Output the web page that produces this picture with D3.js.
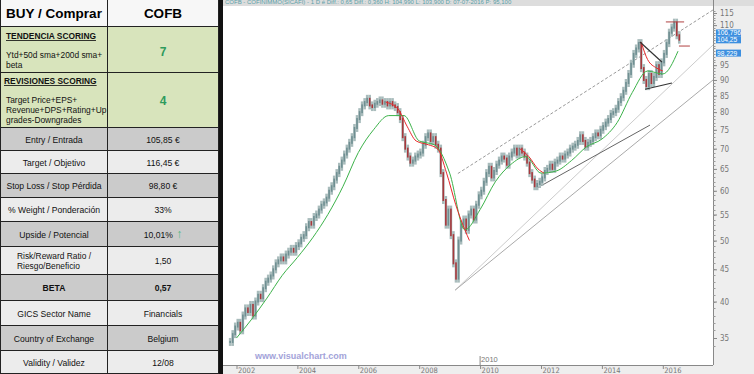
<!DOCTYPE html>
<html>
<head>
<meta charset="utf-8">
<script src="https://cdn.jsdelivr.net/npm/d3@7"></script>
<style>
  body { margin: 0; background: #fff; }
  svg { display: block; font-family: "Liberation Sans", Arial, sans-serif; }
</style>
</head>
<body>
<svg id="chart" width="754" height="374"></svg>
<script>
// ---- table data ----
var tableLabels = ['Entry / Entrada', 'Target / Objetivo', 'Stop Loss / Stop Pérdida', '% Weight / Ponderación',
    'Upside / Potencial', 'Risk/Reward  Ratio /|Riesgo/Beneficio', 'BETA', 'GICS Sector Name',
    'Country of Exchange', 'Validity / Validez'];
var tableValues = ['105,85 €', '116,45 €', '98,80 €', '33%', '10,01%', '1,50', '0,57', 'Financials', 'Belgium', '12/08'];
var rowEdges = [0, 27, 73, 128, 151, 174, 198, 222, 247, 275, 301, 326, 351, 374];
var tendenciaScore = 7;
var revisionesScore = 4;

// ---- price data (monthly closes, Oct 2001 .. Jul 2016) ----
var firstMonth = 2001 + 9 / 12;
var closes = [
    34.5, 35.5, 36.5,                                              // 2001
    37, 36, 38, 39, 38.5, 39.5, 38, 40, 41, 40.5, 42, 43,          // 2002
    43.5, 44, 45, 46, 46.5, 47, 46.5, 47.5, 48, 48.5, 48, 49,      // 2003
    49.5, 50.5, 51, 52.5, 53.5, 53, 54.5, 55, 56, 57, 57.5, 58.5,  // 2004
    60, 61, 62.5, 64, 65.5, 67, 68.5, 70, 71.5, 73, 75.5, 78,      // 2005
    80, 82, 83, 84, 82, 81.5, 82.5, 83, 83.5, 82.5, 83, 82,        // 2006
    83, 82, 81.5, 80, 78, 73, 70, 68, 66.5, 67, 68, 68.5,          // 2007
    69, 71, 73, 74, 72, 73, 71, 70, 64, 58, 53, 56,                // 2008
    51, 46, 43.5, 50, 53, 54, 52, 55, 56, 54, 57, 59,              // 2009
    60, 62, 64, 65.5, 63, 64.5, 66, 67, 68, 67.5, 66, 68,          // 2010
    69, 70, 68.5, 70, 69, 68, 66.5, 64, 62.5, 61, 61.5, 62,        // 2011
    63, 64.5, 65, 66, 65, 66.5, 67, 68, 67.5, 68.5, 69, 70,        // 2012
    70.5, 71, 72, 73.5, 72, 70.5, 71.5, 72, 73, 74, 73.5, 75,      // 2013
    76, 77, 78, 79.5, 80, 81, 83, 84.5, 86.5, 89, 92, 95.5,        // 2014
    99, 101, 103, 94, 90, 88, 92, 89, 91, 95, 92, 96,              // 2015
    99, 103, 107, 109, 111, 106, 104.3                             // 2016
];

// moving average lines as [year, price]
var greenLine = [[2002.0, 35], [2002.5, 37.5], [2003.0, 40.5], [2003.5, 44], [2004.0, 47], [2004.5, 50.5],
    [2005.0, 55], [2005.5, 61], [2006.0, 69], [2006.5, 75], [2007.0, 79], [2007.5, 79], [2008.0, 72],
    [2008.5, 71], [2009.0, 64], [2009.5, 52], [2010.0, 56], [2010.5, 62], [2011.0, 66], [2011.5, 68],
    [2012.0, 64], [2012.5, 64.5], [2013.0, 67], [2013.5, 70.5], [2014.0, 72.5], [2014.5, 77],
    [2015.0, 86], [2015.5, 93], [2016.0, 92], [2016.5, 100]];
var redLines = [
    [[2006.9, 83], [2007.3, 81], [2007.6, 76], [2007.9, 72], [2008.3, 71], [2008.6, 70], [2008.9, 64],
     [2009.2, 57], [2009.5, 52], [2009.65, 50]],
    [[2011.3, 70], [2011.6, 68], [2011.9, 65], [2012.1, 64]],
    [[2015.3, 103], [2015.5, 97], [2015.8, 94], [2016.0, 93]]
];

// drawn trend lines [x1, v1, x2, v2]
var channelLines = [
    { pts: [2009.27, 63.9, 2017.65, 116.3], color: '#999', dash: '3,2' },
    { pts: [2009.18, 41.7, 2017.65, 102.3], color: '#ccc', dash: null },
    { pts: [2009.18, 41.7, 2017.65, 90.0], color: '#aaa', dash: null },
    { pts: [2011.87, 60.6, 2015.58, 76.3], color: '#666', dash: null }
];
var triangleLines = [[2015.25, 103.4, 2015.97, 96.1], [2015.42, 87.0, 2016.30, 89.0]];
var levelLines = [[2016.1, 2016.7, 111.3], [2016.53, 2016.89, 101.9]];
var priceTags = [[106.9, '106,796'], [104.25, '104,25'], [99.3, '98,229']];

var yTicks = [35, 40, 45, 50, 55, 60, 65, 70, 75, 80, 85, 90, 95, 110, 115];
var xTicks = [2002, 2004, 2006, 2008, 2010, 2012, 2014, 2016];

var svg = d3.select('#chart');

// ---------------- table ----------------
var tbl = svg.append('g');
var rowFills = ['#f7f7f7', '#d8e4bc', '#d8e4bc', '#cbcbcb', '#ececec', '#cbcbcb', '#ececec', '#cbcbcb',
    '#ececec', '#cbcbcb', '#ececec', '#cbcbcb', '#ececec'];
rowFills.forEach(function (f, i) {
    tbl.append('rect').attr('x', 0).attr('y', rowEdges[i]).attr('width', 219)
        .attr('height', rowEdges[i + 1] - rowEdges[i]).attr('fill', f);
    tbl.append('line').attr('x1', 0).attr('x2', 219).attr('y1', rowEdges[i + 1] - 0.5)
        .attr('y2', rowEdges[i + 1] - 0.5).attr('stroke', '#222').attr('stroke-width', 1);
});
tbl.append('line').attr('x1', 107.5).attr('x2', 107.5).attr('y1', 0).attr('y2', 374).attr('stroke', '#222');
tbl.append('line').attr('x1', 0.5).attr('x2', 0.5).attr('y1', 0).attr('y2', 374).attr('stroke', '#222');
tbl.append('line').attr('x1', 218.5).attr('x2', 218.5).attr('y1', 0).attr('y2', 374).attr('stroke', '#222');

tbl.append('text').attr('x', 54).attr('y', 18).attr('text-anchor', 'middle')
    .style('font-size', '13.5px').style('font-weight', 'bold').text('BUY / Comprar');
tbl.append('text').attr('x', 163).attr('y', 18).attr('text-anchor', 'middle')
    .style('font-size', '13.5px').style('font-weight', 'bold').text('COFB');

function leftText(x, y, str, bold, underline) {
    tbl.append('text').attr('x', x).attr('y', y).style('font-size', '8.4px')
        .style('font-weight', bold ? 'bold' : 'normal')
        .style('text-decoration', underline ? 'underline' : 'none').attr('fill', '#111').text(str);
}
leftText(6, 39, 'TENDENCIA SCORING', true, true);
leftText(6, 58, 'Ytd+50d sma+200d sma+');
leftText(6, 68, 'beta');
leftText(4, 84, 'REVISIONES SCORING', true, true);
leftText(6, 103, 'Target Price+EPS+');
leftText(6, 113, 'Revenue+DPS+Rating+Up');
leftText(6, 123, 'grades-Downgrades');
tbl.append('text').attr('x', 163).attr('y', 56).attr('text-anchor', 'middle').attr('fill', '#2e9a5c')
    .style('font-size', '12px').style('font-weight', 'bold').text(tendenciaScore);
tbl.append('text').attr('x', 163).attr('y', 105).attr('text-anchor', 'middle').attr('fill', '#2e9a5c')
    .style('font-size', '12px').style('font-weight', 'bold').text(revisionesScore);

tableLabels.forEach(function (lab, i) {
    var top = rowEdges[i + 3], bot = rowEdges[i + 4], mid = (top + bot) / 2;
    var bold = lab === 'BETA';
    var parts = lab.split('|');
    if (parts.length > 1) {
        leftText(17, mid - 2, parts[0]);
        leftText(17, mid + 8, parts[1]);
    } else {
        tbl.append('text').attr('x', 54).attr('y', mid + 3).attr('text-anchor', 'middle')
            .style('font-size', '8.6px').style('font-weight', bold ? 'bold' : 'normal').attr('fill', '#111').text(lab);
    }
    var vt = tbl.append('text').attr('x', 163).attr('y', mid + 3).attr('text-anchor', 'middle')
        .style('font-size', '8.6px').style('font-weight', bold ? 'bold' : 'normal').attr('fill', '#111')
        .text(tableValues[i]);
    if (lab.indexOf('Upside') === 0) {
        vt.append('tspan').attr('fill', '#4cb882').style('font-size', '12px').text(' \u2191');
    }
});

// ---------------- chart ----------------
var plotLeft = 223, plotRight = 713, plotTop = 6, plotBottom = 365;
var x = d3.scaleLinear().domain([2002, 2016]).range([236.5, 662.8]);
var y = d3.scaleLog().domain([35, 115]).range([338, 13]);

svg.append('rect').attr('x', 219).attr('y', 0).attr('width', 4).attr('height', 374).attr('fill', '#111');
svg.append('rect').attr('x', plotRight).attr('y', 0).attr('width', 754 - plotRight).attr('height', 374).attr('fill', '#eeeeee');
svg.append('rect').attr('x', plotLeft).attr('y', plotBottom).attr('width', 754 - plotLeft).attr('height', 374 - plotBottom).attr('fill', '#eeeeee');
svg.append('rect').attr('x', plotLeft).attr('y', 0).attr('width', 754 - plotLeft).attr('height', plotTop).attr('fill', '#dddddd');
svg.append('text').attr('x', 225).attr('y', 4).attr('fill', '#5aa0a8').style('font-size', '6px')
    .text('COFB - COFINIMMO(SICAFI) - 1 D é Diff.: 0,65 Diff.: 0,360 H: 104,990 L: 103,900 D: 07-07-2016 P: 95,100');

svg.append('clipPath').attr('id', 'plotClip').append('rect')
    .attr('x', plotLeft).attr('y', plotTop).attr('width', plotRight - plotLeft).attr('height', plotBottom - plotTop);
var plot = svg.append('g').attr('clip-path', 'url(#plotClip)');

// trend lines
channelLines.forEach(function (c) {
    plot.append('line').attr('x1', x(c.pts[0])).attr('y1', y(c.pts[1])).attr('x2', x(c.pts[2])).attr('y2', y(c.pts[3]))
        .attr('stroke', c.color).attr('stroke-width', 1).attr('stroke-dasharray', c.dash);
});

// candles, open = previous close
var bars = closes.map(function (c, i) {
    return { t: firstMonth + (i + 0.5) / 12, open: i > 0 ? closes[i - 1] : c, close: c };
});
// wicks
plot.selectAll('line.wick').data(bars).enter().append('line').attr('class', 'wick')
    .attr('x1', function (d) { return x(d.t); }).attr('x2', function (d) { return x(d.t); })
    .attr('y1', function (d) { return y(Math.max(d.open, d.close)) - 4; })
    .attr('y2', function (d) { return y(Math.min(d.open, d.close)) + 4; })
    .attr('stroke', '#a9bcbc').attr('stroke-width', 2.6);
plot.selectAll('rect.bar').data(bars).enter().append('rect').attr('class', 'bar')
    .attr('x', function (d) { return x(d.t) - 0.8; })
    .attr('width', 1.6)
    .attr('y', function (d) { return y(Math.max(d.open, d.close)) - 1; })
    .attr('height', function (d) { return Math.abs(y(d.open) - y(d.close)) + 2; })
    .attr('fill', function (d) { return d.close >= d.open ? '#6f8f92' : '#a8383c'; });

var line = d3.line().x(function (d) { return x(d[0]); }).y(function (d) { return y(d[1]); }).curve(d3.curveMonotoneX);
plot.append('path').attr('d', line(greenLine)).attr('fill', 'none').attr('stroke', '#3cb24a').attr('stroke-width', 1);
redLines.forEach(function (r) {
    plot.append('path').attr('d', line(r)).attr('fill', 'none').attr('stroke', '#e8282b').attr('stroke-width', 1);
});
triangleLines.forEach(function (p) {
    plot.append('line').attr('x1', x(p[0])).attr('y1', y(p[1])).attr('x2', x(p[2])).attr('y2', y(p[3]))
        .attr('stroke', '#333').attr('stroke-width', 1.2);
});
levelLines.forEach(function (p) {
    plot.append('line').attr('x1', x(p[0])).attr('x2', x(p[1])).attr('y1', y(p[2])).attr('y2', y(p[2]))
        .attr('stroke', '#b04040').attr('stroke-width', 1);
});

// right axis
svg.append('line').attr('x1', plotRight + 0.5).attr('x2', plotRight + 0.5).attr('y1', 0).attr('y2', plotBottom)
    .attr('stroke', '#888');
var minor = d3.range(34, 117);
svg.selectAll('line.minor').data(minor).enter().append('line').attr('class', 'minor')
    .attr('x1', plotRight).attr('x2', plotRight + 2.5)
    .attr('y1', function (d) { return Math.round(y(d)) + 0.5; }).attr('y2', function (d) { return Math.round(y(d)) + 0.5; })
    .attr('stroke', '#999');
var yAxis = d3.axisRight(y).tickValues(yTicks).tickSize(4).tickFormat(d3.format('d'));
var ya = svg.append('g').attr('transform', 'translate(' + plotRight + ',0)').call(yAxis);
ya.select('.domain').remove();
ya.selectAll('line').attr('stroke', '#888');
ya.selectAll('text').attr('fill', '#777').style('font-size', '8px').style('font-family', '"Liberation Sans Narrow", "DejaVu Sans Condensed", sans-serif');

// price tags
priceTags.forEach(function (p) {
    var yy = y(p[0]);
    svg.append('rect').attr('x', 716).attr('y', yy - 3.5).attr('width', 25).attr('height', 7).attr('fill', '#3c8fe0');
    svg.append('text').attr('x', 717).attr('y', yy + 2.5).attr('fill', '#fff').style('font-size', '6.6px')
        .style('font-family', '"Liberation Sans Narrow", sans-serif').text(p[1]);
});

// bottom axis
svg.append('line').attr('x1', plotLeft).attr('x2', plotRight).attr('y1', plotBottom + 0.5).attr('y2', plotBottom + 0.5).attr('stroke', '#888');
var xAxis = d3.axisBottom(x).tickValues(xTicks).tickSize(4).tickFormat(d3.format('d'));
var xa = svg.append('g').attr('transform', 'translate(0,' + plotBottom + ')').call(xAxis);
xa.select('.domain').remove();
xa.selectAll('line').attr('stroke', '#888');
xa.selectAll('text').attr('fill', '#777').attr('text-anchor', 'start').attr('dx', 1).attr('y', 3)
    .style('font-size', '7.5px').style('font-family', '"Liberation Sans Narrow", "DejaVu Sans Condensed", sans-serif');

// cursor year marker
svg.append('line').attr('x1', x(2010)).attr('x2', x(2010)).attr('y1', 356).attr('y2', 365).attr('stroke', '#888');
svg.append('text').attr('x', x(2010) + 1).attr('y', 362).attr('fill', '#777').style('font-size', '7.5px')
    .style('font-family', '"Liberation Sans Narrow", sans-serif').text('2010');

svg.append('text').attr('x', 255).attr('y', 359).attr('fill', '#a3a3d9').style('font-size', '9px')
    .style('font-weight', 'bold').text('www.visualchart.com');
</script>
</body>
</html>
